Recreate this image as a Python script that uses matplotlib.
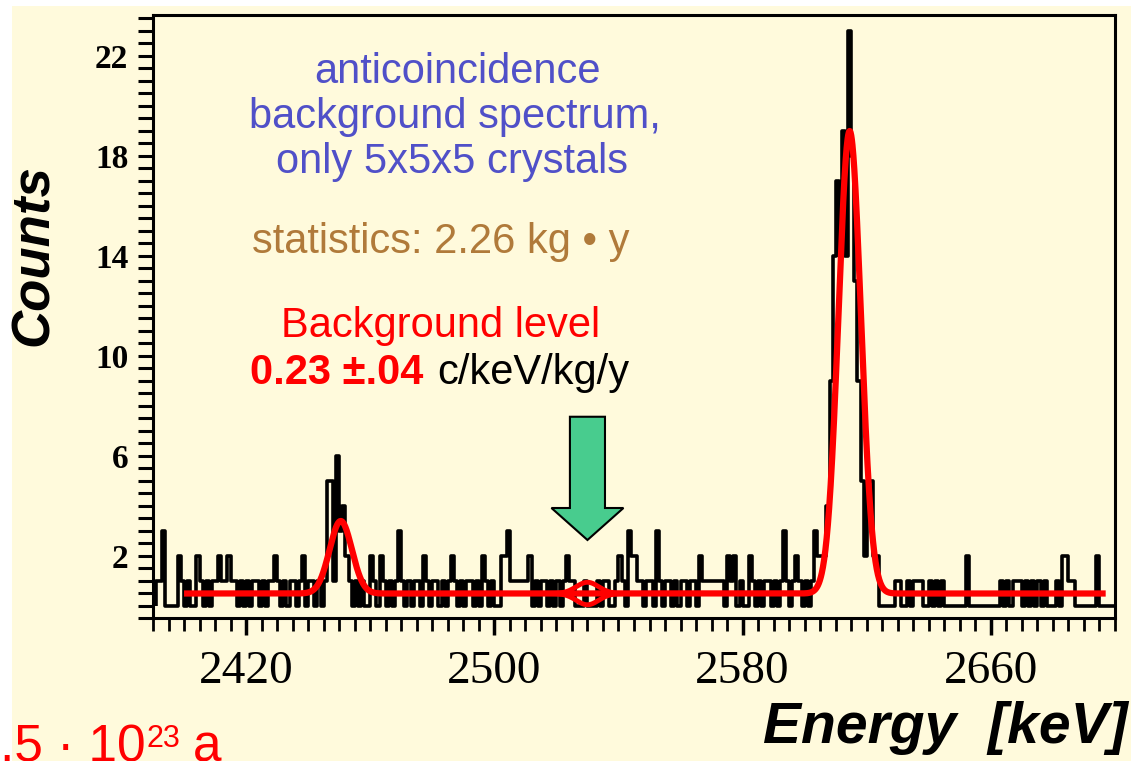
import matplotlib
matplotlib.use("Agg")
import matplotlib.pyplot as plt
import numpy as np
from matplotlib.patches import FancyArrow, Rectangle
from matplotlib.ticker import FixedLocator, MultipleLocator

W, H = 1131, 761
BG = "#FFFADC"

# counts per 1 keV bin, first bin starts at 2391 keV
e_start = 2391
counts = [
    1, 1, 3, 0, 0, 0, 0, 2, 1, 0,       # 2391
    1, 0, 0, 2, 1, 0, 1, 0, 1, 1,       # 2401
    2, 1, 1, 2, 1, 1, 0, 1, 0, 1,       # 2411
    0, 1, 1, 0, 1, 0, 1, 1, 2, 1,       # 2421
    0, 1, 0, 1, 1, 0, 1, 2, 0, 1,       # 2431
    1, 0, 1, 0, 1, 5, 5, 1, 6, 3,       # 2441
    4, 2, 1, 0, 1, 0, 1, 0, 0, 2,       # 2451
    1, 0, 2, 1, 0, 1, 0, 1, 3, 1,       # 2461
    0, 1, 0, 1, 1, 0, 2, 1, 0, 1,       # 2471
    1, 0, 1, 0, 1, 2, 1, 0, 1, 0,       # 2481
    1, 1, 0, 1, 0, 2, 1, 0, 1, 0,       # 2491
    0, 2, 2, 3, 1, 1, 1, 1, 1, 1,       # 2501
    2, 0, 1, 0, 1, 1, 0, 1, 0, 1,       # 2511
    0, 1, 2, 1, 1, 0, 0, 0, 1, 0,       # 2521
    0, 0, 1, 0, 1, 1, 0, 0, 1, 2,       # 2531
    1, 0, 3, 2, 2, 1, 1, 0, 1, 1,       # 2541
    0, 3, 1, 0, 1, 1, 0, 1, 0, 1,       # 2551
    1, 0, 1, 1, 0, 2, 1, 1, 1, 1,       # 2561
    1, 1, 1, 0, 2, 1, 2, 0, 1, 0,       # 2571
    0, 2, 1, 0, 1, 0, 1, 1, 0, 1,       # 2581
    0, 1, 3, 1, 0, 1, 2, 1, 0, 1,       # 2591
    0, 1, 3, 2, 2, 2, 4, 9, 14, 17,     # 2601
    14, 19, 14, 23, 18, 13, 9, 5, 2, 5,  # 2611
    5, 2, 2, 0, 0, 0, 0, 0, 1, 1,       # 2621
    0, 0, 1, 0, 1, 1, 1, 0, 0, 1,       # 2631
    0, 1, 0, 1, 0, 0, 0, 0, 0, 0,       # 2641
    0, 2, 0, 0, 0, 0, 0, 0, 0, 0,       # 2651
    0, 0, 1, 0, 1, 0, 1, 1, 1, 0,       # 2661
    1, 0, 1, 0, 1, 0, 1, 0, 0, 0,       # 2671
    1, 0, 2, 2, 1, 1, 0, 0, 0, 0,       # 2681
    0, 0, 0, 2, 0, 0, 0, 0, 0,          # 2691
]
edges = np.arange(e_start, e_start + len(counts) + 1)

# fit: flat background plus gaussian lines (centre, amplitude, sigma)
bkg_level = 0.48
fit_peaks = [(2450.5, 2.9, 3.6), (2614.5, 18.5, 3.6)]
fit_lo, fit_hi = 2400, 2697
q_value = 2530
q_amp = 0.45
q_sigma = 3.6

x_major = [2420, 2500, 2580, 2660]
y_major = [2, 6, 10, 14, 18, 22]


def gauss(e, c, a, s):
    return a * np.exp(-0.5 * ((e - c) / s) ** 2)


def fpos(x, y):
    return x / W, 1 - y / H


fig = plt.figure(figsize=(W / 100, H / 100), dpi=100)
fig.patch.set_facecolor("white")
fig.patches.append(Rectangle((12 / W, 0), 1, 1 - 6 / H, transform=fig.transFigure,
                             facecolor=BG, edgecolor="none", zorder=-10))

ax = fig.add_axes([153 / W, 1 - 618 / H, (1115 - 153) / W, (618 - 15) / H])
ax.set_facecolor(BG)

ax.stairs(counts, edges, color="black", lw=2.6, joinstyle="round", zorder=2)

e = np.linspace(fit_lo, fit_hi, 3000)
fit = bkg_level + sum(gauss(e, *p) for p in fit_peaks)
ax.plot(e, fit, color="#FF0000", lw=4.5, solid_capstyle="butt", zorder=3)

eq = np.linspace(q_value - 13, q_value + 13, 300)
ax.plot(eq, bkg_level + gauss(eq, q_value, q_amp, q_sigma), color="#FF0000", lw=3.5, zorder=3)
ax.plot(eq, bkg_level - gauss(eq, q_value, q_amp, q_sigma), color="#FF0000", lw=3.5, zorder=3)

arrow = FancyArrow(q_value, 7.55, 0, -4.93, width=11.3, head_width=23.2, head_length=1.28,
                   length_includes_head=True, facecolor="#48CC8E", edgecolor="black",
                   lw=1.5, zorder=4)
ax.add_patch(arrow)

ax.set_xlim(2390, 2700)
ax.set_ylim(-0.5, 23.62)

for side in ["left", "right", "top", "bottom"]:
    ax.spines[side].set_linewidth(2.2)

ax.xaxis.set_major_locator(FixedLocator(x_major))
ax.xaxis.set_minor_locator(MultipleLocator(5))
ax.yaxis.set_major_locator(FixedLocator(y_major))
ax.yaxis.set_minor_locator(MultipleLocator(0.5))
ax.tick_params(axis="x", which="major", direction="out", length=12.5, width=2.5, pad=11)
ax.tick_params(axis="x", which="minor", direction="out", length=9.5, width=2)
ax.tick_params(axis="y", which="both", direction="out", length=10.8, width=2.2, pad=7)
ax.set_xticklabels([str(v) for v in x_major], family="Liberation Serif", fontsize=34)
ax.set_yticklabels([str(v) for v in y_major], family="Liberation Serif", fontsize=24,
                   fontweight="bold")

sans = "Liberation Sans"
fig.text(*fpos(34, 255), "Counts", rotation=90, ha="center", va="center", family=sans,
         fontsize=38, fontweight="bold", fontstyle="italic")
fig.text(*fpos(945, 743), "Energy  [keV]", ha="center", va="baseline", family=sans,
         fontsize=41, fontweight="bold", fontstyle="italic")

blue = "#5050C8"
fig.text(*fpos(457, 83), "anticoincidence", ha="center", va="baseline", family=sans,
         fontsize=30, color=blue)
fig.text(*fpos(455, 128), "background spectrum,", ha="center", va="baseline", family=sans,
         fontsize=30, color=blue)
fig.text(*fpos(452, 173), "only 5x5x5 crystals", ha="center", va="baseline", family=sans,
         fontsize=30, color=blue)
fig.text(*fpos(441, 253), "statistics: 2.26 kg \u2022 y", ha="center", va="baseline",
         family=sans, fontsize=30, color="#B07A3A")
fig.text(*fpos(441, 337), "Background level", ha="center", va="baseline", family=sans,
         fontsize=30, color="#FF0000")
fig.text(*fpos(250, 384), "0.23 \u00b1.04", ha="left", va="baseline", family=sans,
         fontsize=30, color="#FF0000", fontweight="bold")
fig.text(*fpos(437, 384), "c/keV/kg/y", ha="left", va="baseline", family=sans,
         fontsize=30, color="black")

# label cut off at the lower left edge, as in the source slide
fig.text(*fpos(0, 762), ".5 \u00b7 10", ha="left", va="baseline", family=sans,
         fontsize=37, color="#FF0000")
fig.text(*fpos(147, 747), "23", ha="left", va="baseline", family=sans,
         fontsize=22, color="#FF0000")
fig.text(*fpos(193, 762), "a", ha="left", va="baseline", family=sans,
         fontsize=37, color="#FF0000")

fig.savefig("out.png", dpi=100, facecolor=fig.get_facecolor())
